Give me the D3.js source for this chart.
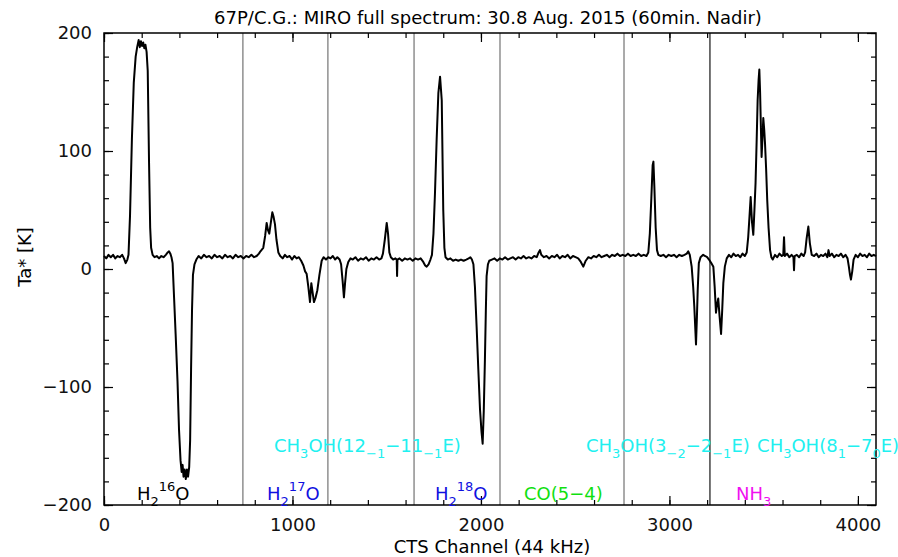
<!DOCTYPE html>
<html>
<head>
<meta charset="utf-8">
<script src="https://cdn.jsdelivr.net/npm/d3@7"></script>
<style>
  body { margin: 0; background: #fff; }
  text { font-family: "DejaVu Sans", sans-serif; }
  .axis path { display: none; }
  .axis line { stroke: #000; stroke-width: 1.2; }
  .axis text { font-size: 18px; fill: #111; }
  .frame { fill: none; stroke: #000; stroke-width: 1.5; }
  .sep { stroke: #666; stroke-width: 1.1; }
  .spectrum { fill: none; stroke: #000; stroke-width: 2; stroke-linejoin: round; }
</style>
</head>
<body>
<svg class="chart"></svg>
<script>
var title = "67P/C.G.: MIRO full spectrum: 30.8 Aug. 2015 (60min. Nadir)";
var xLabel = "CTS Channel (44 kHz)";
var yLabel = "Ta* [K]";

var xMajor = [0, 1000, 2000, 3000, 4000];
var yMajor = [-200, -100, 0, 100, 200];

// boundaries between the CTS sub-bands (channel)
var separators = [737, 1188, 1645, 2101, 2759, 3215];

// [channel, Ta* K]
var spectrum = [
  [0,11],[12,9],[24,12],[36,10],[48,12],[60,9],[72,11],[84,10],[96,12],[106,9],[115,5],[124,8],[130,12],
  [138,45],[148,110],[158,158],[168,180],[176,188],[184,194],[190,188],[196,193],[202,189],[208,192],[214,187],[220,190],[226,184],[232,168],[239,90],[245,35],[250,18],[258,12],[268,10],[280,11],[292,9],[304,11],[316,10],[328,12],[338,14],[345,15],[352,13],[358,10],[364,5],
  [372,-25],[380,-55],[390,-95],[398,-136],[406,-162],[412,-172],[417,-166],[422,-176],[428,-170],[434,-178],[440,-170],[446,-176],[452,-168],[457,-145],[462,-85],[467,-35],[472,-5],[480,4],[490,8],
  [502,11],[516,9],[530,12],[544,10],[558,11],[572,9],[586,12],[600,10],[614,11],[628,9],[642,12],[656,10],[670,11],[684,9],[698,12],[712,10],[726,11],[740,9],[754,11],[768,10],[782,12],[796,10],[810,11],[822,13],
  [830,15],[845,18],[855,28],[863,39],[870,33],[877,30],[884,38],[893,48],[900,44],[907,38],[915,25],[925,14],
  [935,11],[948,9],[960,12],[972,10],[985,11],[998,8],[1010,11],[1022,9],[1034,10],[1046,7],[1058,3],
  [1067,-2],[1075,-4],[1084,-15],[1093,-28],[1100,-12],[1107,-20],[1114,-28],[1123,-24],[1132,-18],[1143,-5],[1155,7],[1165,10],[1178,8],[1190,10],[1202,9],[1214,11],[1226,8],[1238,10],[1250,8],
  [1258,4],[1266,-10],[1273,-24],[1279,-12],[1286,0],[1296,6],[1308,9],
  [1320,8],[1334,10],[1348,7],[1362,9],[1376,8],[1390,10],[1404,7],[1418,9],[1432,8],[1446,10],[1460,8],[1472,9],
  [1480,13],[1490,25],[1500,39],[1507,30],[1514,14],[1522,10],[1534,8],[1546,9],[1553,8],[1555,-6],[1557,8],[1568,9],[1582,7],[1596,9],[1610,8],[1624,9],[1638,7],[1652,9],[1666,8],[1680,9],[1694,6],[1704,3],[1712,2],[1722,4],[1732,8],[1740,12],
  [1748,30],[1756,64],[1765,110],[1774,149],[1783,163],[1792,143],[1800,50],[1806,18],[1812,10],[1824,8],[1838,9],[1852,7],[1866,8],[1880,7],[1894,8],[1908,7],[1922,8],[1935,9],[1944,10],[1952,8],[1960,4],
  [1968,-15],[1977,-49],[1986,-85],[1995,-119],[2003,-138],[2009,-148],[2015,-120],[2021,-77],[2026,-35],[2030,-6],[2037,4],[2044,7],
  [2058,8],[2072,9],[2086,7],[2100,9],[2114,8],[2128,10],[2142,8],[2156,9],[2170,10],[2184,8],[2198,10],[2212,9],[2226,11],[2240,9],[2254,10],[2268,9],[2282,11],[2296,10],[2306,14],[2313,16],[2320,12],[2334,10],[2348,11],[2362,9],[2376,11],[2390,10],[2404,12],[2418,9],[2432,11],[2446,10],[2460,12],[2474,9],[2488,11],[2502,10],[2516,9],[2530,6],[2543,2],[2556,7],[2570,10],[2584,9],[2598,11],[2612,10],[2626,12],[2640,10],[2654,11],[2668,12],[2682,10],[2696,12],[2710,11],[2724,13],[2738,11],[2752,12],[2766,11],[2780,13],[2794,11],[2808,12],[2822,11],[2836,13],[2850,11],[2864,12],[2878,11],[2888,14],
  [2896,30],[2904,60],[2911,88],[2915,91],[2920,70],[2927,35],[2934,16],[2941,12],[2954,11],[2968,12],[2982,10],[2996,12],[3010,11],[3024,12],[3038,10],[3052,12],[3066,11],[3080,12],[3092,13],[3100,15],[3108,12],[3118,2],
  [3126,-15],[3132,-32],[3141,-64],[3146,-40],[3150,-18],[3156,5],[3165,10],[3179,12],[3190,11],[3200,10],[3210,8],[3222,5],[3233,2],[3240,-15],[3247,-37],[3253,-30],[3259,-25],[3266,-40],[3274,-55],[3280,-35],[3286,-12],[3294,2],[3304,9],
  [3316,12],[3328,10],[3340,13],[3352,11],[3364,12],[3376,10],[3388,13],[3400,11],[3410,14],
  [3418,27],[3425,45],[3431,61],[3438,40],[3445,29],[3451,50],[3457,73],[3463,110],[3468,143],[3473,160],[3477,169],[3481,150],[3484,129],[3489,95],[3494,112],[3498,128],[3503,118],[3507,107],[3513,85],[3519,58],[3526,35],[3534,16],[3541,10],[3548,8],
  [3560,12],[3572,10],[3584,13],[3596,11],[3604,12],[3608,27],[3612,11],[3624,13],[3636,10],[3648,12],[3658,10],[3661,-1],[3664,11],[3676,12],[3688,10],[3700,13],[3712,11],[3720,14],[3728,26],[3737,36],[3745,22],[3755,12],[3768,11],[3780,13],[3792,10],[3804,12],[3816,11],[3828,13],[3838,10],[3844,16],[3850,11],[3862,13],[3874,10],[3886,12],[3898,11],[3910,13],[3922,10],[3934,12],[3945,9],[3952,2],[3958,-5],[3963,-9],[3970,-2],[3977,8],[3988,12],[4000,10],[4012,13],[4024,11],[4036,12],[4048,10],[4060,13],[4072,11],[4084,12],[4096,11]
];

// species labels: start channel, row, colour, pieces (text, "sub" / "sup" / "")
var lineLabels = [
  { ch: 175,  row: 0, color: "#000000", parts: [["H", ""], ["2", "sub"], ["16", "sup"], ["O", ""]] },
  { ch: 865,  row: 0, color: "#1010e0", parts: [["H", ""], ["2", "sub"], ["17", "sup"], ["O", ""]] },
  { ch: 1756, row: 0, color: "#1010e0", parts: [["H", ""], ["2", "sub"], ["18", "sup"], ["O", ""]] },
  { ch: 2228, row: 0, color: "#10e010", parts: [["CO(5\u22124)", ""]] },
  { ch: 3353, row: 0, color: "#f010f0", parts: [["NH", ""], ["3", "sub"]] },
  { ch: 902,  row: 1, color: "#20f0f0", parts: [["CH", ""], ["3", "sub"], ["OH(12", ""], ["\u22121", "sub"], ["\u221211", ""], ["\u22121", "sub"], ["E)", ""]] },
  { ch: 2557, row: 1, color: "#20f0f0", parts: [["CH", ""], ["3", "sub"], ["OH(3", ""], ["\u22122", "sub"], ["\u22122", ""], ["\u22121", "sub"], ["E)", ""]] },
  { ch: 3465, row: 1, color: "#20f0f0", parts: [["CH", ""], ["3", "sub"], ["OH(8", ""], ["1", "sub"], ["\u22127", ""], ["0", "sub"], ["E)", ""]] }
];

var margin = { top: 33, right: 22, bottom: 52, left: 104 },
width = 898 - margin.left - margin.right,
height = 557 - margin.top - margin.bottom;

var x = d3.scaleLinear()
  .domain([0, 4096])
  .range([0, width]);
var y = d3.scaleLinear()
  .domain([-200, 200])
  .range([height, 0]);

var minorX = d3.range(0, 4097, 200);
var minorY = d3.range(-200, 201, 20);

var root = d3.select(".chart")
  .attr("width", width + margin.left + margin.right)
  .attr("height", height + margin.top + margin.bottom);

var svg = root.append("g")
  .attr("transform", "translate(" + margin.left + "," + margin.top + ")");

// separators
svg.selectAll(".sep")
  .data(separators)
  .enter().append("line")
    .attr("class", "sep")
    .attr("x1", function(d) { return x(d); })
    .attr("x2", function(d) { return x(d); })
    .attr("y1", 0)
    .attr("y2", height)
    .style("stroke", function(d, i) { return i == separators.length - 1 ? "#000" : null; });

// ticks, pointing inward on all four sides
svg.append("g")
  .attr("class", "x axis")
  .attr("transform", "translate(0," + height + ")")
  .call(d3.axisBottom(x).tickValues(xMajor).tickSize(-9).tickPadding(13).tickFormat(d3.format("d")));
svg.append("g")
  .attr("class", "x axis minor")
  .attr("transform", "translate(0," + height + ")")
  .call(d3.axisBottom(x).tickValues(minorX).tickSize(-5).tickFormat(""));
svg.append("g")
  .attr("class", "x axis")
  .call(d3.axisTop(x).tickValues(xMajor).tickSize(-9).tickFormat(""));
svg.append("g")
  .attr("class", "x axis minor")
  .call(d3.axisTop(x).tickValues(minorX).tickSize(-5).tickFormat(""));

svg.append("g")
  .attr("class", "y axis")
  .call(d3.axisLeft(y).tickValues(yMajor).tickSize(-9).tickPadding(12));
svg.append("g")
  .attr("class", "y axis minor")
  .call(d3.axisLeft(y).tickValues(minorY).tickSize(-5).tickFormat(""));
svg.append("g")
  .attr("class", "y axis")
  .attr("transform", "translate(" + width + ",0)")
  .call(d3.axisRight(y).tickValues(yMajor).tickSize(-9).tickFormat(""));
svg.append("g")
  .attr("class", "y axis minor")
  .attr("transform", "translate(" + width + ",0)")
  .call(d3.axisRight(y).tickValues(minorY).tickSize(-5).tickFormat(""));

// spectrum
var line = d3.line()
  .x(function(d) { return x(d[0]); })
  .y(function(d) { return y(d[1]); });

svg.append("path")
  .datum(spectrum)
  .attr("class", "spectrum")
  .attr("d", line);

svg.append("rect")
  .attr("class", "frame")
  .attr("width", width)
  .attr("height", height);

// species labels
var rowY = [height - 5, height - 53];
var shift = { "": 0, sub: 6, sup: -9 };

lineLabels.forEach(function(lab) {
  var t = svg.append("text")
    .attr("x", x(lab.ch))
    .attr("y", rowY[lab.row])
    .style("font-size", "18px")
    .style("fill", lab.color);
  var prev = 0;
  lab.parts.forEach(function(p) {
    var s = shift[p[1]];
    t.append("tspan")
      .attr("dy", s - prev)
      .style("font-size", p[1] ? "13px" : "18px")
      .text(p[0]);
    prev = s;
  });
});

// titles
root.append("text")
  .attr("x", 488)
  .attr("y", 24)
  .attr("text-anchor", "middle")
  .style("font-size", "18px")
  .text(title);

root.append("text")
  .attr("x", 492)
  .attr("y", 553)
  .attr("text-anchor", "middle")
  .style("font-size", "18px")
  .text(xLabel);

root.append("text")
  .attr("transform", "translate(31,257) rotate(-90)")
  .attr("text-anchor", "middle")
  .style("font-size", "18px")
  .text(yLabel);
</script>
</body>
</html>
